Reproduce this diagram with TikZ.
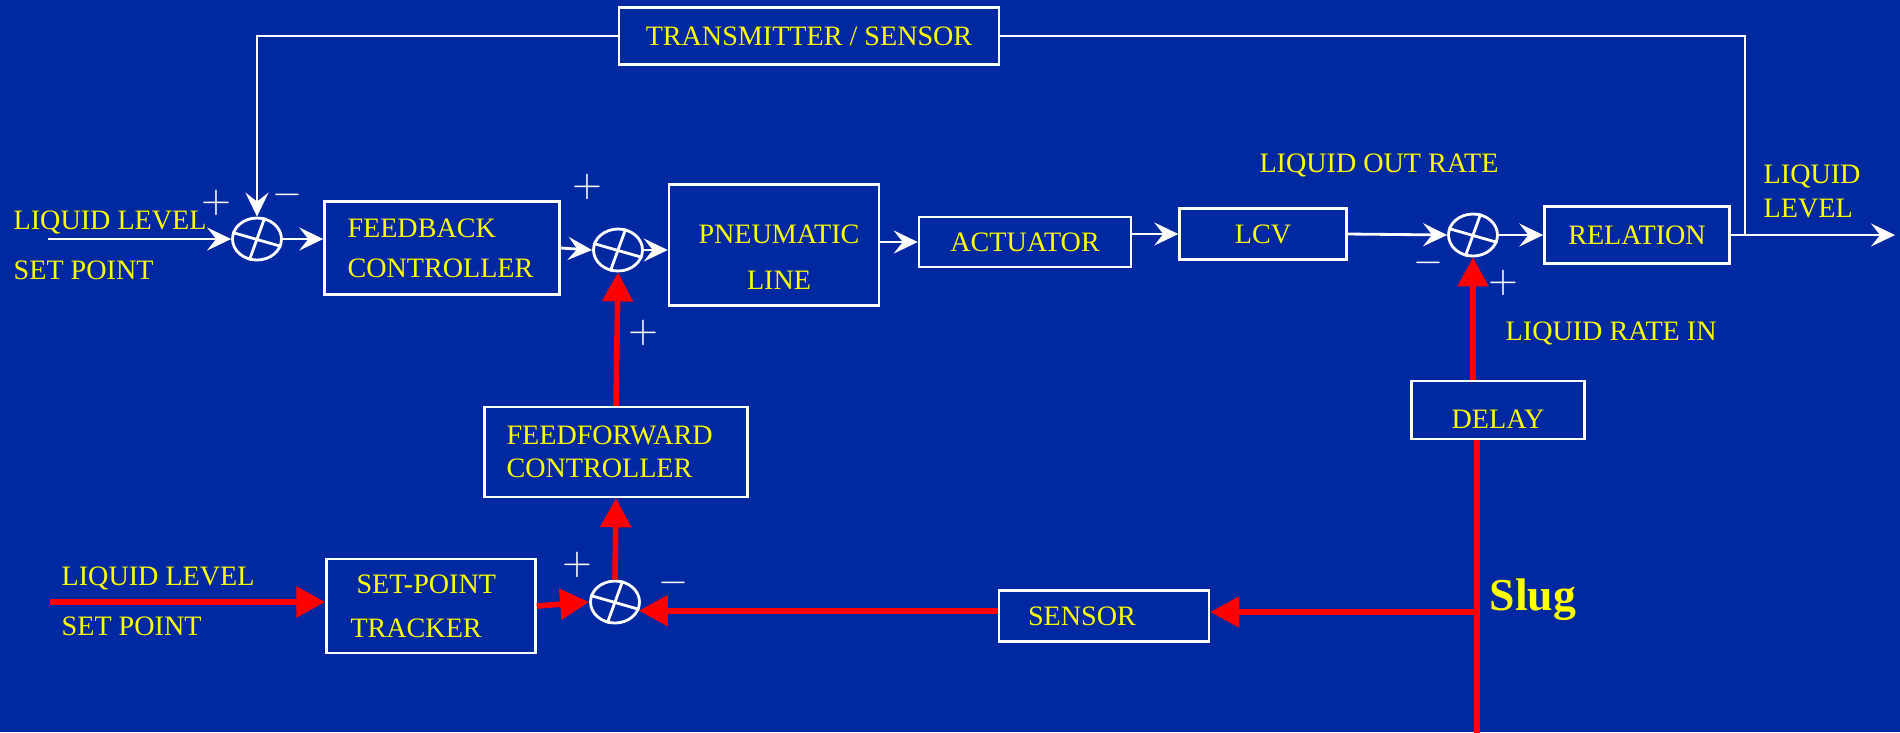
\documentclass[tikz,border=0pt]{standalone}
\usepackage{fontspec}
\setmainfont{Liberation Serif}
\usetikzlibrary{arrows.meta, calc, shapes.geometric}
\definecolor{fondo}{RGB}{0,40,160}
\definecolor{amarillo}{RGB}{255,255,0}
\definecolor{rojo}{RGB}{255,0,0}
\tikzset{
  bloque/.style={rectangle, draw=white, line width=0.7pt, text=amarillo, font=\fontsize{8}{11.4}\selectfont, inner sep=0pt},
  suma/.style={ellipse, draw=white, line width=0.8pt, minimum width=4.9mm, minimum height=4.2mm, inner sep=0pt},
  texto/.style={text=amarillo, font=\fontsize{8}{9.6}\selectfont, inner sep=0pt, text depth=0pt},
  signo/.style={text=white, font=\fontsize{10.5}{10.5}\selectfont, inner sep=0pt},
  linea/.style={white, line width=0.8pt},
  flecha/.style={linea, -{Stealth[length=2.4mm,width=2.3mm,inset=0.9mm]}},
  linearoja/.style={rojo, line width=1.6pt},
  flecharoja/.style={linearoja, -{Triangle[length=2.9mm,width=3mm]}}
}

\begin{document}
\begin{tikzpicture}
    % Fondo azul del diagrama
    \useasboundingbox (0,0) rectangle (19,-7.32);
    \fill[fondo] (0,0) rectangle (19,-7.32);

    % Bloques del lazo principal
    \node[bloque, minimum width=3.80cm, minimum height=0.57cm] (tx) at (8.09,-0.36) {TRANSMITTER / SENSOR};
    \node[bloque, minimum width=2.35cm, minimum height=0.93cm, text width=1.89cm, align=left, inner xsep=0.23cm] (fb) at (4.42,-2.48) {FEEDBACK\\CONTROLLER};
    \node[bloque, minimum width=2.10cm, minimum height=1.21cm] (pn) at (7.74,-2.45) {};
    \node[bloque, draw=none, align=center, font=\fontsize{8}{13.1}\selectfont] (pntxt) at (7.79,-2.57) {PNEUMATIC\\LINE};
    \node[bloque, minimum width=2.12cm, minimum height=0.50cm] (act) at (10.25,-2.42) {ACTUATOR};
    \node[bloque, minimum width=1.67cm, minimum height=0.51cm] (lcv) at (12.63,-2.34) {LCV};
    \node[bloque, minimum width=1.85cm, minimum height=0.57cm] (rel) at (16.37,-2.35) {RELATION};
    \node[bloque, minimum width=1.73cm, minimum height=0.58cm, text height=0.36cm, text depth=0pt] (dl) at (14.98,-4.10) {DELAY};

    % Bloques del lazo de prealimentacion
    \node[bloque, minimum width=2.63cm, minimum height=0.90cm, text width=2.19cm, align=left, inner xsep=0.22cm, font=\fontsize{8}{9.4}\selectfont] (ff) at (6.16,-4.52) {FEEDFORWARD\\CONTROLLER};
    \node[bloque, minimum width=2.09cm, minimum height=0.94cm, text width=1.61cm, align=left, inner xsep=0.24cm, font=\fontsize{8}{12.5}\selectfont] (sp) at (4.31,-6.06) {\hspace*{0.6mm}SET-POINT\\TRACKER};
    \node[bloque, minimum width=2.10cm, minimum height=0.51cm, text width=1.52cm, align=left, inner xsep=0.29cm] (sn) at (11.04,-6.16) {SENSOR};

    % Sumadores
    \node[suma] (s1) at (2.57,-2.39) {};
    \node[suma] (s2) at (6.18,-2.50) {};
    \node[suma] (s3) at (14.73,-2.35) {};
    \node[suma] (s4) at (6.15,-6.02) {};
    \foreach \s in {s1,s2,s3,s4} {
        \draw[linea] (\s.165) -- (\s.-17);
        \draw[linea] (\s.70) -- (\s.250);
    }

    % Signos de cada sumador
    \foreach \nombre/\pos/\sg in {mas1/{(2.16,-2.03)}/+, menos1/{(2.87,-1.95)}/-,
        mas2/{(5.87,-1.87)}/+, mas3/{(6.43,-3.33)}/+,
        menos3/{(14.28,-2.63)}/-, mas4/{(15.03,-2.83)}/+,
        mas5/{(5.77,-5.65)}/+, menos5/{(6.73,-5.83)}/-} {
        \node[signo] (\nombre) at \pos {$\sg$};
    }

    % Textos sueltos
    \node[texto, anchor=west] (ref1a) at (0.13,-2.20) {LIQUID LEVEL};
    \node[texto, anchor=west] (ref1b) at (0.13,-2.70) {SET POINT};
    \node[texto] (qout) at (13.79,-1.63) {LIQUID OUT RATE};
    \node[texto, anchor=west] (qin) at (15.05,-3.31) {LIQUID RATE IN};
    \node[texto, anchor=west] (nivela) at (17.63,-1.74) {LIQUID};
    \node[texto, anchor=west] (nivelb) at (17.63,-2.085) {LEVEL};
    \node[texto, anchor=west] (ref2a) at (0.61,-5.765) {LIQUID LEVEL};
    \node[texto, anchor=west] (ref2b) at (0.61,-6.26) {SET POINT};
    \node[texto, anchor=base west, font=\fontsize{13}{15}\selectfont\bfseries] (slug) at (14.89,-6.10) {Slug};

    % Puntos libres de las lineas
    \coordinate (in1) at (0.48,-2.39);
    \coordinate (in2) at (0.495,-6.02);
    \coordinate (tap) at (17.45,-2.35);
    \coordinate (out) at (18.95,-2.35);
    \coordinate (jn) at (14.77,-6.12);
    \coordinate (bot) at (14.77,-7.40);

    % Conexiones blancas (lazo de realimentacion)
    \draw[flecha] (in1) -- (s1.west);
    \draw[flecha] (s1.east) -- (s1.east -| fb.west);
    \draw[flecha] (fb.east) -- (s2.west);
    \draw[flecha] (s2.east) -- (pn.west |- s2.east);
    \draw[flecha] (pn.east |- act) -- (act.west);
    \draw[flecha] (act.east |- lcv) -- (lcv.west);
    \draw[flecha] (lcv.east) -- (s3.west);
    \draw[flecha] (s3.east) -- (rel.west);
    \draw[flecha] (rel.east) -- (out);
    \draw[linea] (tap) |- (tx.east);
    \draw[flecha] (tx.west) -| (s1.north);

    % Conexiones rojas (prealimentacion y slug)
    \draw[flecharoja] (in2) -- (sp.west |- in2);
    \draw[flecharoja] (sp.east) -- (s4.west);
    \draw[flecharoja] (sn.west |- s4.-20) -- (s4.-20);
    \draw[flecharoja] (s4.north) -- (ff.south);
    \draw[flecharoja] (ff.north) -- (s2.south);
    \draw[flecharoja] (s3 |- dl.north) -- (s3.south);
    \draw[linearoja] (jn |- dl.south) -- (bot);
    \draw[flecharoja] (jn) -- (jn -| sn.east);
\end{tikzpicture}
\end{document}
